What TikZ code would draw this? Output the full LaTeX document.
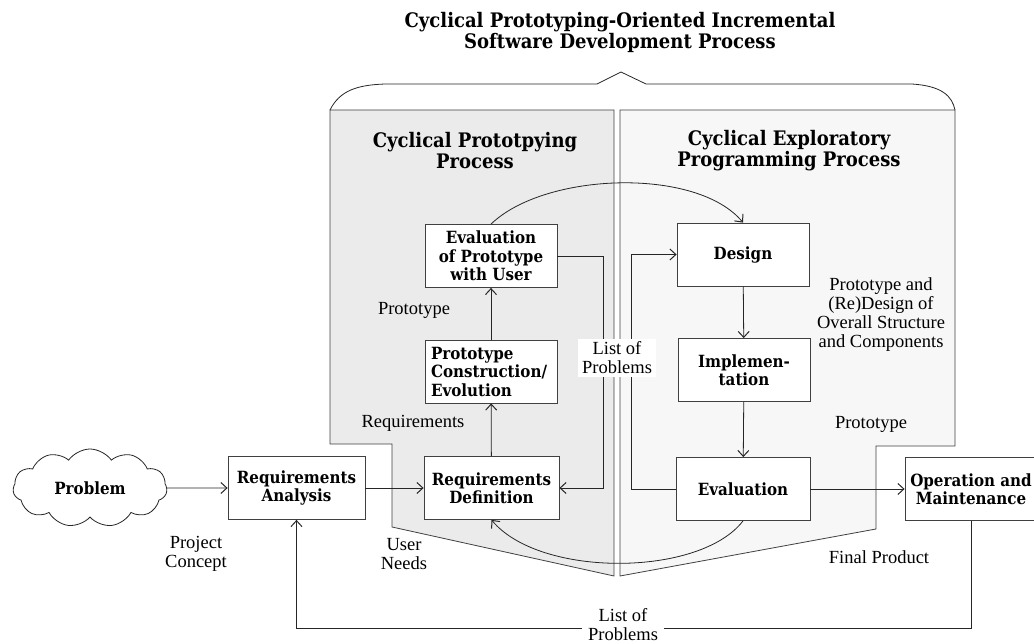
\documentclass[tikz,border=0pt]{standalone}
\usepackage{fontspec}
\setmainfont{Liberation Serif}
\newfontfamily\bfx{DejaVu Serif Condensed}
\usetikzlibrary{arrows.meta,shapes.symbols}
\definecolor{panelL}{HTML}{EBEBEB}
\definecolor{panelR}{HTML}{F7F7F7}
\tikzset{
  box/.style={draw=black!75, fill=white, line width=0.8pt, font=\bfx\bfseries\fontsize{16.8}{18.5}\selectfont, align=center, inner sep=0pt, minimum width=132pt, minimum height=63pt},
  lbl/.style={font=\fontsize{18.5}{19}\selectfont, align=center, inner sep=1pt},
  ttl/.style={font=\bfx\bfseries\fontsize{20}{21}\selectfont, align=center},
  arr/.style={-{Straight Barb[length=6pt,width=11pt,line width=1pt]}, line width=0.8pt, draw=black!85},
  ln/.style={line width=0.8pt, draw=black!85},
  panel/.style={draw=black!75, line width=0.8pt}
}
\begin{document}
\begin{tikzpicture}[x=1pt,y=-1pt]
\useasboundingbox (0,0) rectangle (1034,644);
% panels
\draw[panel, fill=panelL] (330,110) -- (614,110) -- (614,576) -- (392,527) -- (392,444) -- (330,444) -- cycle;
\draw[panel, fill=panelR] (620,110) -- (955,110) -- (955,446) -- (876,446) -- (876,529) -- (620,576) -- cycle;
% brace
\draw[ln] (330,110) .. controls (340,90) and (358,85) .. (385,84) -- (597,84) -- (621,72) -- (646,84) -- (912,84) .. controls (942,86) and (952,96) .. (955,110);
% titles
\node[ttl] (title) at (620,32) {Cyclical Prototyping-Oriented Incremental\\Software Development Process};
\node[ttl] (tl) at (475,151) {Cyclical Prototpying\\Process};
\node[ttl] (tr) at (789,151) {Cyclical Exploratory\\Programming Process};
% nodes
\node[cloud, draw=black!85, fill=white, line width=0.8pt, cloud puffs=11, cloud puff arc=110, aspect=2.1, minimum width=154pt, minimum height=78pt, font=\bfx\bfseries\fontsize{16.8}{18.5}\selectfont, inner sep=0pt] (prob) at (90,488) {Problem};
\node[box, minimum width=137pt] (ra) at (296.5,488) {Requirements\\Analysis};
\node[box, minimum width=135pt] (rd) at (491.5,488) {Requirements\\Definition};
\node[box, align=left, text width=120pt, inner xsep=6pt, minimum width=132pt] (pce) at (491,371.5) {Prototype\\Construction/\\Evolution};
\node[box] (ewu) at (491,256) {Evaluation\\of Prototype\\with User};
\node[box] (des) at (743,254.5) {Design};
\node[box] (imp) at (744,370) {Implemen-\\tation};
\node[box, minimum width=134pt] (ev) at (743,489) {Evaluation};
\node[box] (om) at (971,489) {Operation and\\Maintenance};
% connectors
\draw[arr] (prob.east) -- (ra.west);
\draw[arr] (ra) -- (rd);
\draw[arr] (rd) -- (pce);
\draw[arr] (pce) -- (ewu);
\draw[arr] (ewu.east) -- ++(46,0) |- (rd.east);
\draw[arr] (ewu.north) .. controls (545,172) and (697,167) .. (des.north);
\draw[arr] (des) -- (imp);
\draw[arr] (imp) -- (ev);
\draw[arr] (ev.west) -- ++(-44,0) |- (des.west);
\draw[arr] (ev.south) .. controls (700,577) and (540,578) .. (rd.south);
\draw[arr] (ev) -- (om);
\draw[arr] (om.south) -- ++(0,107.5) -| (ra.south);
% labels
\node[lbl] (lp1) at (414,310) {Prototype};
\node[lbl] (lreq) at (413,423) {Requirements};
\node[lbl, fill=white, inner xsep=4pt, inner ysep=3pt] (llp) at (617,358) {List of\\Problems};
\node[lbl] (lpr) at (881,314.5) {Prototype and\\(Re)Design of\\Overall Structure\\and Components};
\node[lbl] (lp2) at (871,424) {Prototype};
\node[lbl] (lfp) at (879,557) {Final Product};
\node[lbl] (lpc) at (196,554) {Project\\Concept};
\node[lbl] (lun) at (404,554) {User\\Needs};
\node[lbl, fill=white, inner xsep=6pt, inner ysep=0pt] (llp2) at (623,625) {List of\\Problems};
\end{tikzpicture}
\end{document}
